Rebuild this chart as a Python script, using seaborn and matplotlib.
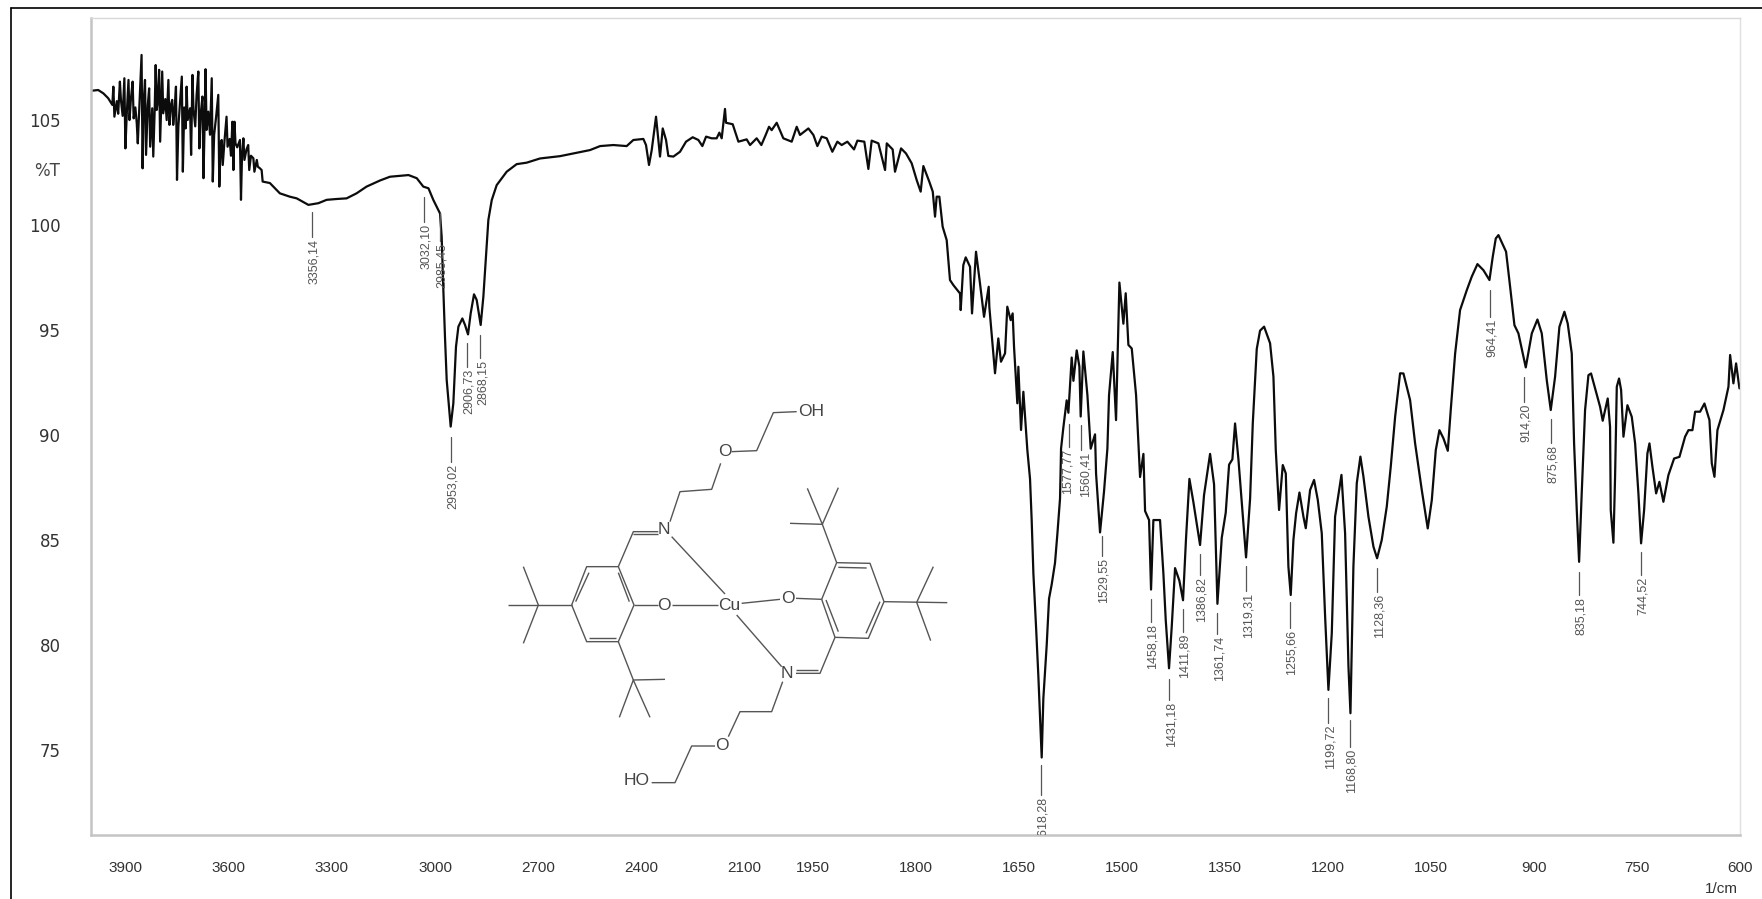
import matplotlib
matplotlib.use("Agg")
import matplotlib.pyplot as plt
from matplotlib.collections import LineCollection
import seaborn as sns
import pandas as pd
import numpy as np

# noisy start of the spectrum, wavenumber (1/cm) and %T
noise_wn = [
    3996, 3979, 3964, 3950, 3938,
    3935, 3932, 3925, 3921, 3916, 3913, 3908, 3903, 3900, 3896, 3891, 3888, 3884, 3879, 3876, 3871, 3867, 3864,
    3858, 3853, 3850, 3847, 3843, 3840, 3835, 3831, 3828, 3822, 3819, 3815, 3812, 3809, 3806, 3802, 3799, 3796,
    3793, 3790, 3784, 3780, 3775, 3772, 3768, 3764, 3761, 3757, 3753, 3750, 3746, 3741, 3736, 3733, 3729, 3725,
    3722, 3719, 3712, 3709, 3705, 3702, 3697, 3693, 3688, 3685, 3681, 3676, 3673, 3670, 3667, 3664, 3659, 3654,
    3649, 3646, 3642, 3636, 3630, 3627, 3623, 3620, 3617, 3612, 3606, 3603, 3597, 3593, 3589, 3586, 3583, 3580,
    3575, 3567, 3564, 3561, 3557, 3554, 3548, 3543, 3540, 3535, 3528, 3525, 3518, 3515, 3509, 3504, 3501,
]
noise_t = [
    106.4, 106.43, 106.27, 106.04, 105.72,
    106.59, 105.16, 105.9, 105.3, 106.83, 105.96, 105.2, 106.99, 103.65, 105.3, 106.91, 105.0, 106.0, 106.83, 105.08, 105.6, 104.85, 103.89,
    106.2, 108.1, 102.7, 105.8, 106.91, 103.34, 105.7, 106.51, 103.73, 105.56, 103.26, 105.4, 107.62, 105.48, 105.9, 107.39, 103.97, 105.6,
    107.31, 105.32, 106.0, 105.0, 106.91, 104.77, 105.7, 105.96, 104.77, 105.5, 106.59, 102.15, 104.7, 105.9, 107.07, 102.54, 105.6, 104.6,
    106.59, 105.0, 105.56, 103.34, 107.15, 105.48, 104.7, 106.2, 107.31, 103.65, 105.3, 106.12, 102.23, 104.6, 107.42, 104.53, 105.4, 104.3,
    106.99, 102.07, 104.3, 105.2, 106.2, 101.83, 103.9, 104.05, 102.86, 104.0, 105.16, 103.73, 104.1, 103.3, 104.92, 102.62, 104.92, 103.89,
    103.7, 104.05, 101.2, 103.3, 104.13, 103.1, 103.6, 103.81, 102.62, 103.3, 103.18, 102.54, 103.1, 102.78, 102.7, 102.62, 102.07,
]

# rest of the spectrum
band_wn = [
    3480, 3451, 3422, 3402, 3368, 3339, 3315, 3286, 3257, 3228, 3199, 3160, 3131, 3077,
    3053, 3034, 3019, 3005, 2985.4, 2980.6, 2975.7, 2971, 2966, 2954.4, 2946.7, 2939, 2932, 2920.5, 2912.7, 2904,
    2896.3, 2886.6, 2878.8, 2867.2, 2859.4, 2851.7, 2844.9, 2835, 2820.7, 2791.6, 2762.6, 2733.5, 2694.7, 2636.6,
    2588, 2549.4, 2520, 2481.5, 2442.8, 2423.4, 2394.3, 2386.6, 2377.9, 2370, 2357.5, 2345.9, 2338, 2328.4, 2321.7,
    2307, 2287.7, 2270.3, 2250.9, 2234.4, 2222.8, 2212, 2195.7, 2181.2, 2173.4, 2166.6, 2157, 2154, 2134.6, 2118,
    2094, 2084.2, 2064.9, 2051.3, 2038.7, 2029, 2021.3, 2006.7, 1993.7, 1981.5, 1974.2, 1969.4, 1957.2, 1949.9,
    1944.1, 1937.8, 1930.5, 1922.3, 1915, 1908.7, 1900.4, 1890.7, 1885.8, 1875.7, 1869.8, 1865, 1855.2, 1845.5,
    1843, 1834.4, 1831, 1822.2, 1815, 1806.7, 1799.4, 1793.6, 1789.7, 1781, 1776, 1772.7, 1770.3, 1766.4, 1761.6,
    1755.7, 1750.9, 1746, 1736.3, 1735.3, 1731.5, 1728, 1721.7, 1718.8, 1713, 1707.2, 1701.3, 1694.5, 1693.6,
    1685.3, 1680.5, 1676.6, 1670.7, 1667.4, 1662.5, 1659.6, 1657.6, 1652.8, 1651.3, 1647.4, 1644, 1638.2, 1634.3,
    1631.9, 1629.4, 1625.5, 1622.1, 1617.3, 1614.9, 1610, 1606.6, 1602.7, 1597.9, 1594.5, 1590.6, 1589.1, 1585.7,
    1580.9, 1578.4, 1573.6, 1571.1, 1566.3, 1562.4, 1560.5, 1556.6, 1550.7, 1545.9, 1539.6, 1538.1, 1532.3, 1526.5,
    1521.6, 1519.2, 1513.8, 1509, 1504.1, 1498.3, 1494.9, 1491, 1486.1, 1479.8, 1474, 1469.1, 1466.7, 1460.9, 1458,
    1454.6, 1444.9, 1440, 1436.6, 1431.8, 1427.9, 1423, 1416.7, 1411.4, 1407, 1402.1, 1396.3, 1386.6, 1380.8, 1372,
    1366.2, 1361.3, 1355, 1349.2, 1344.3, 1339.5, 1335.6, 1330.7, 1325.9, 1319.6, 1313.7, 1309.8, 1304, 1299.2,
    1293.3, 1284.6, 1279.7, 1276.3, 1271.5, 1266.1, 1261.7, 1257.9, 1254.5, 1250.6, 1246.7, 1241.8, 1236, 1232.6,
    1226.3, 1220.5, 1215.1, 1209.3, 1204.4, 1199.6, 1194.7, 1189.9, 1180.6, 1175.3, 1170.4, 1167.5, 1163.2, 1158.3,
    1153, 1148.6, 1141.3, 1134, 1128.7, 1121.9, 1114.6, 1108.8, 1102.4, 1095.2, 1090.3, 1080.6, 1073.3, 1063.6,
    1054.9, 1049, 1043.2, 1037.9, 1032, 1025.7, 1021.4, 1015, 1007.8, 998, 990.8, 982.5, 973.8, 965, 960.2, 955.8,
    951.9, 940.8, 934.9, 928.6, 922.8, 912.1, 903.3, 895.1, 888.8, 881.5, 875.7, 869.4, 863.1, 855.8, 851, 845.1,
    841.7, 837.8, 834.4, 830.6, 825.7, 820.8, 817, 811.1, 803.8, 800, 792.7, 789.3, 788.3, 784.4, 782, 779.5, 776.2,
    773.2, 769.8, 764, 757.7, 752.8, 748, 744.1, 739.7, 734.9, 731.9, 727.6, 722.2, 717.4, 711.6, 704.3, 696, 688.2,
    680, 675.1, 669.3, 665.4, 658.1, 651.8, 644.5, 641.1, 637.2, 632.9, 624.1, 616.8, 614.4, 609.6, 605.7, 600.8,
]
band_t = [
    102.0, 101.51, 101.35, 101.27, 100.96, 101.04, 101.2, 101.24, 101.27, 101.51, 101.83, 102.12, 102.3, 102.38,
    102.23, 101.83, 101.75, 101.2, 100.55, 99.44, 96.9, 94.68, 92.62, 90.4, 91.51, 94.2, 95.16, 95.55, 95.24, 94.79,
    95.79, 96.7, 96.43, 95.24, 96.59, 98.49, 100.24, 101.19, 101.9, 102.54, 102.9, 102.97, 103.17, 103.28,
    103.44, 103.57, 103.76, 103.81, 103.76, 104.05, 104.1, 103.81, 102.86, 103.57, 105.16, 103.26, 104.6, 104.05, 103.29,
    103.26, 103.49, 103.97, 104.18, 104.05, 103.76, 104.21, 104.13, 104.13, 104.4, 104.13, 105.53, 104.87, 104.8, 103.97,
    104.08, 103.81, 104.13, 103.81, 104.29, 104.68, 104.52, 104.87, 104.13, 103.97, 104.68, 104.29, 104.6, 104.29,
    103.76, 104.21, 104.13, 103.49, 103.97, 103.81, 103.97, 103.6, 104.02, 103.97, 102.67, 104.02, 103.89, 102.62,
    103.89, 103.6, 102.54, 103.65, 103.41, 102.94, 102.14, 101.59, 102.81, 102.06, 101.59, 100.4, 101.35, 101.35, 99.92,
    99.28, 97.38, 97.14, 96.74, 95.95, 98.09, 98.46, 98.01, 95.79, 98.73, 97.22, 95.63, 97.06, 96.11,
    92.94, 94.6, 93.49, 93.89, 96.11, 95.47, 95.79, 94.2, 91.51, 93.25, 90.24, 92.06, 89.28, 87.91,
    85.95, 83.4, 80.85, 78.47, 74.64, 77.45, 80.0, 82.21, 82.89, 83.91, 85.27, 86.97, 89.35, 90.37,
    91.65, 91.06, 93.69, 92.58, 94.03, 93.26, 90.88, 93.98, 91.9, 89.35, 90.03, 88.16, 85.36, 87.31,
    89.35, 91.9, 93.95, 90.71, 97.26, 95.3, 96.75, 94.29, 94.12, 91.9, 88.0, 89.1, 86.38, 85.95, 82.64,
    85.95, 85.95, 83.4, 81.19, 78.89, 80.85, 83.66, 83.06, 82.13, 85.1, 87.91, 86.8, 84.76, 87.14, 89.1,
    87.65, 81.96, 85.1, 86.3, 88.59, 88.84, 90.55, 88.84, 86.8, 84.17, 86.97, 90.55, 94.1, 94.97,
    95.16, 94.37, 92.78, 89.29, 86.43, 88.57, 88.17, 83.73, 82.38, 85.0, 86.27, 87.26, 86.11, 85.56,
    87.38, 87.86, 86.91, 85.32, 81.35, 77.86, 80.56, 86.11, 88.1, 85.32, 78.97, 76.75, 83.73, 87.7,
    88.97, 88.02, 86.11, 84.68, 84.13, 85.0, 86.59, 88.49, 90.87, 92.94, 92.93, 91.66, 89.6, 87.38,
    85.55, 86.9, 89.28, 90.23, 89.84, 89.25, 91.19, 93.88, 95.95, 96.9, 97.54, 98.14, 97.85, 97.38, 98.49, 99.36,
    99.52, 98.73, 97.06, 95.23, 94.84, 93.22, 94.84, 95.5, 94.84, 92.61, 91.19, 92.77, 95.15, 95.87, 95.31, 93.88,
    89.6, 86.42, 83.96, 87.22, 91.19, 92.85, 92.93, 92.22, 91.34, 90.68, 91.74, 90.39, 86.42, 84.87, 88.0, 92.3, 92.69,
    92.14, 89.92, 91.42, 90.87, 89.6, 87.22, 84.84, 86.42, 89.12, 89.6, 88.49, 87.22, 87.77, 86.82, 88.09, 88.88, 88.96,
    89.92, 90.23, 90.23, 91.11, 91.11, 91.5, 90.71, 88.65, 88.01, 90.23, 91.19, 92.3, 93.81, 92.46, 93.41, 92.22,
]

# peak table
peak_wn = [3356.14, 3032.10, 2985.45, 2953.02, 2906.73, 2868.15, 1618.28, 1577.77, 1560.41, 1529.55, 1458.18,
           1431.18, 1411.89, 1386.82, 1361.74, 1319.31, 1255.66, 1199.72, 1168.80, 1128.36, 964.41, 914.20,
           875.68, 835.18, 744.52]
peak_labels = ["3356,14", "3032,10", "2985,45", "2953,02", "2906,73", "2868,15", "1618,28", "1577,77", "1560,41",
               "1529,55", "1458,18", "1431,18", "1411,89", "1386,82", "1361,74", "1319,31", "1255,66", "1199,72",
               "1168,80", "1128,36", "964,41", "914,20", "875,68", "835,18", "744,52"]
peak_top = [100.62, 101.33, 100.57, 89.9, 94.38, 94.76, 74.29, 90.52, 90.48, 85.19, 82.19, 78.38, 81.71, 84.33,
            81.52, 83.76, 82.05, 77.48, 76.43, 83.67, 96.9, 92.76, 90.76, 83.48, 84.43]
peak_bottom = [99.43, 100.14, 99.24, 88.71, 93.24, 93.67, 72.86, 89.43, 89.29, 84.24, 81.1, 77.38, 80.62, 83.33,
               80.52, 82.57, 80.81, 76.29, 75.14, 82.52, 95.62, 91.57, 89.62, 82.38, 83.33]
# a few labels sit off their marker line, in pixels
label_shift = {"1577,77": -1, "1560,41": 5}

x_ticks = [3900, 3600, 3300, 3000, 2700, 2400, 2100, 1950, 1800, 1650, 1500, 1350, 1200, 1050, 900, 750, 600]
y_ticks = [75, 80, 85, 90, 95, 100, 105]

# molecule sketch, in pixels of the reference's crop (origin 490,390, 3x)
bonds = [
    [(245, 645), (290, 530), (385, 530), (432, 645), (385, 755), (290, 755), (245, 645)],
    [(257, 635), (297, 548)], [(385, 548), (418, 635)], [(298, 743), (378, 743)],
    [(245, 645), (55, 645)], [(100, 530), (145, 645), (100, 760)],
    [(385, 755), (430, 870), (525, 868)], [(388, 982), (430, 870), (480, 982)],
    [(385, 530), (430, 425), (505, 425)], [(430, 433), (505, 433)],
    [(540, 395), (570, 305), (665, 298), (692, 220)], [(725, 185), (800, 182), (850, 68), (920, 65)],
    [(545, 440), (705, 612)], [(432, 645), (503, 645)], [(545, 645), (685, 645)],
    [(755, 640), (870, 628)], [(918, 625), (995, 628)],
    [(995, 628), (1040, 518), (1140, 520), (1182, 635), (1135, 745), (1035, 742), (995, 628)],
    [(1045, 532), (1130, 534)], [(1170, 635), (1128, 730)], [(1008, 630), (1045, 725)],
    [(1040, 518), (997, 403), (900, 400)], [(952, 295), (997, 403), (1045, 293)],
    [(1182, 635), (1372, 638)], [(1330, 530), (1280, 637), (1322, 752)],
    [(740, 675), (875, 830)], [(1035, 742), (990, 850), (918, 850)], [(918, 840), (985, 840)],
    [(878, 875), (845, 965), (750, 965), (715, 1040)], [(675, 1068), (605, 1068), (555, 1178), (485, 1178)],
]
atoms = [("N", 522, 420), ("O", 705, 185), ("OH", 962, 65), ("O", 523, 645), ("Cu", 717, 645), ("O", 895, 625),
         ("N", 890, 850), ("O", 697, 1068), ("HO", 440, 1172)]

W, H = 1762, 899


def fx(px):
    return px / W


def fy(px):
    return 1 - px / H


sns.set_style("white")
plt.rcParams['font.family'] = ['Liberation Sans', 'DejaVu Sans']

fig = plt.figure(figsize=(W / 100, H / 100), dpi=100)
ax = fig.add_axes([fx(91), fy(835), (1740 - 91) / W, (835 - 18) / H])

# the wavenumber axis changes scale at 2000 1/cm
ax.set_xscale('function', functions=(
    lambda v: np.interp(v, [600, 2000, 4000], [0, 961, 1649]),
    lambda p: np.interp(p, [0, 961, 1649], [600, 2000, 4000]),
))

spectrum = pd.DataFrame({'wavenumber': noise_wn + band_wn, 'T': noise_t + band_t})
sns.lineplot(data=spectrum, x='wavenumber', y='T', sort=False, estimator=None, errorbar=None,
             color='#0c0c0c', lw=1.6, ax=ax)

ax.set_xticks(x_ticks)
ax.set_xticklabels([str(t) for t in x_ticks])
ax.minorticks_off()
ax.set_yticks(y_ticks)
ax.set_xlim(4000, 600)
ax.set_ylim(70.95, 109.86)
ax.set_xlabel('')
ax.set_ylabel('')
ax.tick_params(axis='x', length=0, pad=19, labelsize=11, labelcolor='#333333')
ax.tick_params(axis='y', length=0, pad=22, labelsize=12, labelcolor='#333333')
for lab in ax.get_yticklabels():
    lab.set_family('DejaVu Sans')
for side, lw, col in [('left', 1.8, '#c4c4c4'), ('bottom', 1.8, '#c4c4c4'), ('top', 1.0, '#d8d8d8'), ('right', 1.0, '#e0e0e0')]:
    ax.spines[side].set_linewidth(lw)
    ax.spines[side].set_color(col)

# peak markers with rotated labels
for wn, lab, top, bot in zip(peak_wn, peak_labels, peak_top, peak_bottom):
    ax.plot([wn, wn], [top, bot], color='#555555', lw=0.9)
    ax.annotate(lab, (wn, bot - 0.08), xytext=(label_shift.get(lab, 2), 0), textcoords='offset pixels',
                rotation=90, ha='center', va='top', fontsize=9, color='#555555', clip_on=True)

# outer frame of the screenshot
fig.add_artist(plt.Line2D([fx(11), fx(11)], [0, fy(8)], color='black', lw=1.2))
fig.add_artist(plt.Line2D([fx(11), 1], [fy(8), fy(8)], color='black', lw=1.2))

fig.text(fx(60), fy(171), '%T', ha='right', va='center', fontsize=12, color='#444444', family='DejaVu Sans')
fig.text(fx(1721), fy(889), '1/cm', ha='center', va='center', fontsize=11, color='#333333')

# molecule
segs = [[(fx(490 + x / 3), fy(390 + y / 3)) for x, y in b] for b in bonds]
fig.add_artist(LineCollection(segs, colors='#555555', linewidths=1.0, transform=fig.transFigure))
for name, x, y in atoms:
    fig.text(fx(490 + x / 3), fy(390 + y / 3), name, ha='center', va='center', fontsize=12.5, color='#444444')

fig.savefig('out.png', dpi=100, facecolor='white')
